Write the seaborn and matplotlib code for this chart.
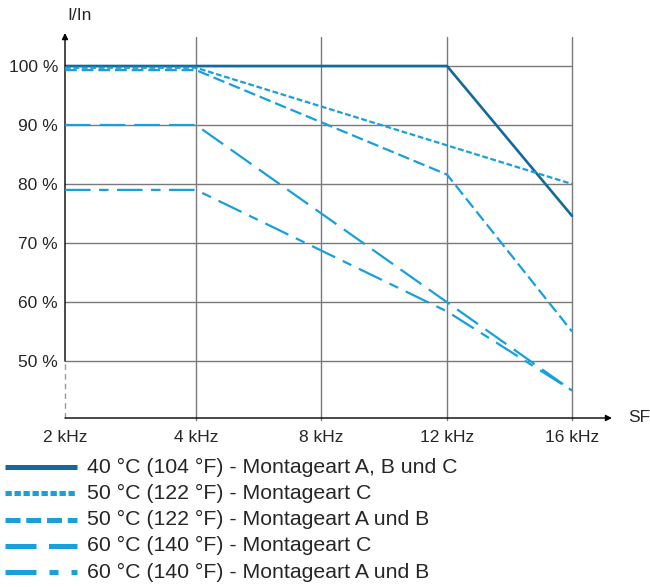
import matplotlib
matplotlib.use("Agg")
import matplotlib.pyplot as plt
from matplotlib.lines import Line2D
import seaborn as sns
import pandas as pd

sns.set_style("white")
plt.rcParams['font.family'] = ['Liberation Sans', 'DejaVu Sans']

# ---- data ----
categories = ['2 kHz', '4 kHz', '8 kHz', '12 kHz', '16 kHz']
y_ticks = [50, 60, 70, 80, 90, 100]
y_tick_labels = ['50 %', '60 %', '70 %', '80 %', '90 %', '100 %']

labels = [
    '40 °C (104 °F) - Montageart A, B und C',
    '50 °C (122 °F) - Montageart C',
    '50 °C (122 °F) - Montageart A und B',
    '60 °C (140 °F) - Montageart C',
    '60 °C (140 °F) - Montageart A und B',
]
s1_x = ['2 kHz', '12 kHz', '16 kHz']
s1_y = [100, 100, 74.6]
s2_x = ['2 kHz', '4 kHz', '16 kHz']
s2_y = [99.7, 99.7, 80]
s3_x = ['2 kHz', '4 kHz', '12 kHz', '16 kHz']
s3_y = [99.3, 99.3, 81.6, 55]
s4_x = ['2 kHz', '4 kHz', '16 kHz']
s4_y = [90, 90, 45]
s5_x = ['2 kHz', '4 kHz', '12 kHz', '16 kHz']
s5_y = [79, 79, 58.4, 45]

series_x = [s1_x, s2_x, s3_x, s4_x, s5_x]
series_y = [s1_y, s2_y, s3_y, s4_y, s5_y]

dark = '#14699a'
light = '#17a0dc'
colors = [dark, light, light, light, light]
plot_dashes = [None, (2.6, 1.2), (5.3, 2.2), (11.5, 4.1), (11.5, 3.8, 4.3, 3.8)]
leg_dashes = [None, (1.26, 0.54), (3.0, 1.15), (6.2, 2.5), (6.2, 2.6, 1.8, 2.6)]

W, H = 650, 587
fig = plt.figure(figsize=(W / 100, H / 100), dpi=100)

# axes pixel geometry
x0, x1 = 65, 612
ytop, ybot = 33, 418
ax = fig.add_axes([x0 / W, (H - ybot) / H, (x1 - x0) / W, (ybot - ytop) / H])

# category positions (2 kHz slot slightly wider in the reference layout)
px_cat = [65, 196, 321, 447, 572]
unit = (572 - 196) / 3
pos = {c: (p - 65) / unit for c, p in zip(categories, px_cat)}
ymin = 100 - (ybot - 66) / 5.9
ymax = 100 + (66 - ytop) / 5.9
xmax = (x1 - x0) / unit
xlast = pos[categories[-1]]
ax.set_xlim(0, xmax)
ax.set_ylim(ymin, ymax)

grid_c = '#7a7a7a'
# grid
for yv in y_ticks:
    ax.plot([0, xlast], [yv, yv], color=grid_c, lw=1.0, zorder=1, clip_on=False)
vtop = 100 + (66 - 37) / 5.9
for c in categories[1:]:
    ax.plot([pos[c], pos[c]], [ymin - 0.3, vtop], color=grid_c, lw=1.0, zorder=1, clip_on=False)

# series
for k in range(len(labels)):
    df = pd.DataFrame({'x': [pos[c] for c in series_x[k]], 'y': series_y[k]})
    kw = {}
    if plot_dashes[k] is not None:
        kw['linestyle'] = (0, plot_dashes[k])
    sns.lineplot(data=df, x='x', y='y', ax=ax, color=colors[k],
                 lw=1.9 if k == 0 else 1.6, legend=False, sort=False,
                 zorder=3 + k, **kw)

for sp in ax.spines.values():
    sp.set_visible(False)

# axes with arrows
ax.annotate('', xy=(xmax, ymin), xytext=(0, ymin), xycoords='data',
            arrowprops=dict(arrowstyle='-|>', color='black', lw=1.0,
                            mutation_scale=9, shrinkA=0, shrinkB=0),
            annotation_clip=False)
ax.annotate('', xy=(0, ymax), xytext=(0, 50), xycoords='data',
            arrowprops=dict(arrowstyle='-|>', color='black', lw=1.0,
                            mutation_scale=9, shrinkA=0, shrinkB=0),
            annotation_clip=False)
ax.plot([0, 0], [ymin, 50], color='#999999', lw=1.0, linestyle=(0, (4, 3)), clip_on=False)

ax.set_xticks([pos[c] for c in categories])
ax.set_xticklabels(categories, fontsize=12.5)
ax.set_yticks(y_ticks)
ax.set_yticklabels(y_tick_labels, fontsize=12.5)
ax.tick_params(axis='x', length=0, pad=9)
ax.tick_params(axis='y', length=0, pad=5)
ax.set_xlabel('')
ax.set_ylabel('')

fig.text(80 / W, 1 - 15 / H, 'I/In', fontsize=12.5, ha='center', va='center')
fig.text(628 / W, 1 - 418 / H, 'SF', fontsize=12.5, ha='left', va='center')

# legend (manual)
row0, pitch = 467, 26.3
for k, lab in enumerate(labels):
    yp = 1 - (row0 + k * pitch) / H
    ln = Line2D([5 / W, 77 / W], [yp, yp], transform=fig.transFigure,
                color=colors[k], lw=3.6, solid_capstyle='butt', dash_capstyle='butt')
    if leg_dashes[k] is not None:
        ln.set_linestyle((0, leg_dashes[k]))
    fig.add_artist(ln)
    fig.text(87 / W, yp, lab, fontsize=15.3, ha='left', va='center')

fig.savefig('out.png', dpi=100)
